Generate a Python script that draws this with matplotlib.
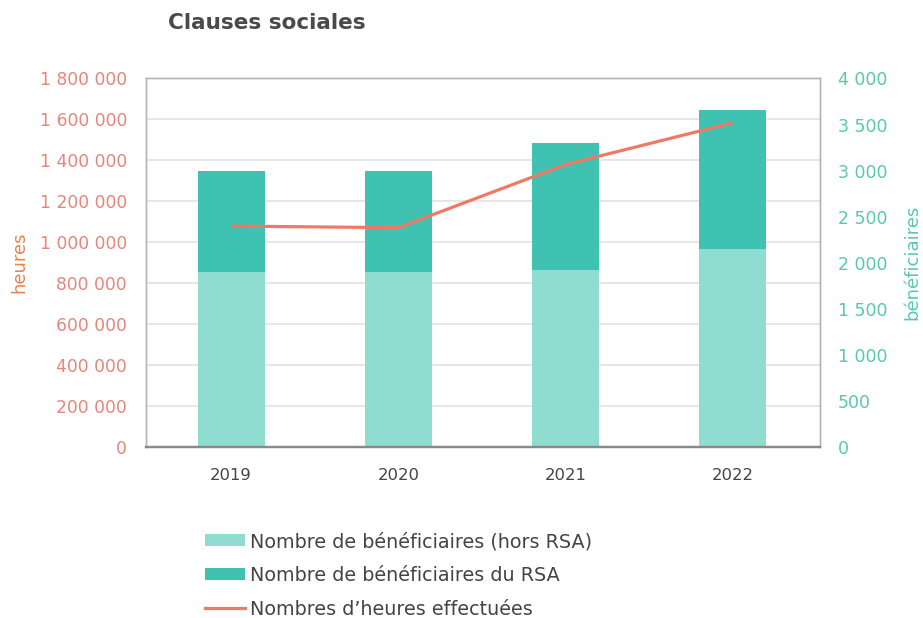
import matplotlib
matplotlib.use("Agg")
import matplotlib.pyplot as plt
from matplotlib.patches import Patch
from matplotlib.lines import Line2D
import numpy as np

plt.rcParams['font.family'] = ['DejaVu Sans']

years = ["2019", "2020", "2021", "2022"]
benef_hors_rsa = [1900, 1900, 1920, 2150]
benef_rsa = [1100, 1100, 1380, 1510]
heures = [1080000, 1072000, 1380000, 1584000]

left_ticks = [0, 200000, 400000, 600000, 800000, 1000000, 1200000, 1400000, 1600000, 1800000]
right_ticks = [0, 500, 1000, 1500, 2000, 2500, 3000, 3500, 4000]

c_light = "#8EDDD0"
c_dark = "#3FC2B1"
c_line = "#EE7A66"
c_left_txt = "#E8857A"
c_right_txt = "#58C8AE"
c_heures = "#E8834F"

def fmt(v):
    return f"{v:,}".replace(",", " ")

fig = plt.figure(figsize=(9.23, 6.18), dpi=100)
ax = fig.add_axes([0.158, 0.276, 0.730, 0.597])
ax2 = ax.twinx()

x = np.arange(len(years))
ax2.bar(x, benef_hors_rsa, width=0.4, color=c_light, zorder=2)
ax2.bar(x, benef_rsa, width=0.4, bottom=benef_hors_rsa, color=c_dark, zorder=2)
ax2.set_ylim(0, 4000)
ax2.set_yticks(right_ticks)
ax2.set_yticklabels([fmt(v) for v in right_ticks], color=c_right_txt, fontsize=12.5)
ax2.tick_params(axis='y', length=0, pad=13)

# hours line on the left scale, drawn above the bars
ax.set_zorder(ax2.get_zorder() + 1)
ax.patch.set_visible(False)
ax.plot(x, heures, color=c_line, lw=2.3, zorder=3, solid_capstyle='butt')
ax.set_ylim(0, 1800000)
ax.set_yticks(left_ticks)
ax.set_yticklabels([fmt(v) for v in left_ticks], color=c_left_txt, fontsize=12.3)
ax.tick_params(axis='y', length=0, pad=13.5)
ax.set_xlim(-0.51, 3.52)
ax.set_xticks(x)
ax.set_xticklabels(years, color="#444444", fontsize=11.8)
ax.tick_params(axis='x', length=0, pad=14.5)

for v in left_ticks[1:-1]:
    ax2.axhline(v / 1800000 * 4000, color="#E2E2E2", lw=1.2, zorder=1)

for a in (ax, ax2):
    for s in ("top", "right", "left"):
        a.spines[s].set_color("#B5B5B5")
        a.spines[s].set_linewidth(1.0)
    a.spines["bottom"].set_color("#8A8A8A")
    a.spines["bottom"].set_linewidth(1.6)

fig.text(19 / 923, 0.576, "heures", rotation=90, ha="center", va="center",
         color=c_heures, fontsize=13)
fig.text(912 / 923, 0.576, "bénéficiaires", rotation=90, ha="center", va="center",
         color=c_right_txt, fontsize=13)

fig.text(0.182, 0.962, "Clauses sociales", fontsize=15.5, fontweight="bold",
         color="#4A4A4A", ha="left", va="center")

handles = [Patch(facecolor=c_light, edgecolor="none"),
           Patch(facecolor=c_dark, edgecolor="none"),
           Line2D([0], [0], color=c_line, lw=2.3)]
labels = ["Nombre de bénéficiaires (hors RSA)",
          "Nombre de bénéficiaires du RSA",
          "Nombres d’heures effectuées"]
fig.legend(handles, labels, loc="upper left", bbox_to_anchor=(0.222, 0.139),
           frameon=False, fontsize=13.8, handlelength=2.08, handleheight=0.6,
           handletextpad=0.26, labelspacing=0.77, labelcolor="#444444",
           borderaxespad=0, borderpad=0)

fig.savefig("out.png", dpi=100, facecolor="white")
